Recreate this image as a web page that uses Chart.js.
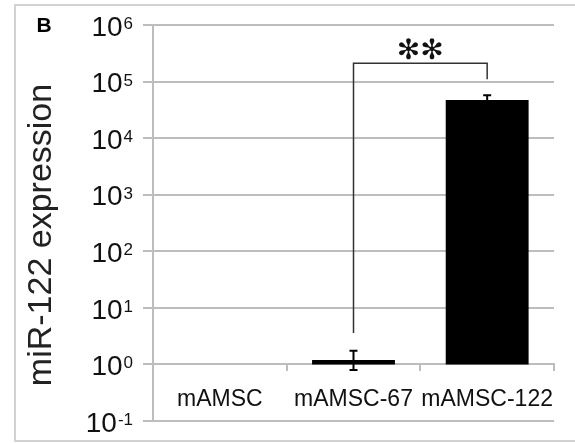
<!DOCTYPE html>
<html>
<head>
<meta charset="utf-8">
<script src="https://cdn.jsdelivr.net/npm/chart.js@4.4.0/dist/chart.umd.min.js"></script>
<style>
  html, body { margin:0; padding:0; background:#fff; }
</style>
</head>
<body>
<canvas id="mirchart" width="575" height="443"></canvas>
<script>
// data
const categories = ['mAMSC', 'mAMSC-67', 'mAMSC-122']
const expression = [null, 1.2, 47000]
const errLow = [null, 0.8, 38000]
const errHigh = [null, 1.75, 57500]
const tickValues = [0.1, 1, 10, 100, 1000, 10000, 100000, 1000000]
const tickExponents = ['-1', '0', '1', '2', '3', '4', '5', '6']
// significance bracket mAMSC-67 vs mAMSC-122
const sigPair = [1, 2]
const sigLegs = [3.6, 110000]
const sigTop = 210000
const sigStarAt = 340000
const sigLabel = '✻✻'

const gridgray = '#bdbdbd'
const fontfam = "'Liberation Sans', Arial, sans-serif"

const extras = {
    id: 'extras',
    beforeDraw(chart) {
        const ctx = chart.ctx
        ctx.save()
        ctx.fillStyle = '#fff'
        ctx.fillRect(0, 0, chart.width, chart.height)
        ctx.strokeStyle = '#d2d2d2'
        ctx.lineWidth = 2
        ctx.strokeRect(15, 5, 600, 436)
        ctx.restore()
    },
    afterDraw(chart) {
        const ctx = chart.ctx
        const xs = chart.scales.x, ys = chart.scales.y
        ctx.save()

        // y tick labels with superscript exponents
        ctx.fillStyle = '#111'
        tickValues.forEach((v, i) => {
            const py = ys.getPixelForValue(v)
            ctx.font = '17px ' + fontfam
            const ew = ctx.measureText(tickExponents[i]).width
            ctx.textAlign = 'right'
            ctx.textBaseline = 'alphabetic'
            ctx.fillText(tickExponents[i], 133, py + 4)
            ctx.font = '28px ' + fontfam
            ctx.textBaseline = 'middle'
            ctx.fillText('10', 133 - ew - 1, py + 3)
        })

        // axis title
        ctx.save()
        ctx.translate(42, 235)
        ctx.rotate(-Math.PI / 2)
        ctx.font = '34px ' + fontfam
        ctx.textAlign = 'center'
        ctx.textBaseline = 'middle'
        ctx.fillStyle = '#222'
        ctx.fillText('miR-122 expression', 0, 0)
        ctx.restore()

        // panel letter
        ctx.font = 'bold 21px ' + fontfam
        ctx.textAlign = 'center'
        ctx.textBaseline = 'middle'
        ctx.fillStyle = '#000'
        ctx.fillText('B', 44, 26)

        // error bars
        ctx.strokeStyle = '#000'
        ctx.lineWidth = 2
        categories.forEach((c, i) => {
            if (errHigh[i] == null) return
            const px = xs.getPixelForValue(i)
            const top = ys.getPixelForValue(errHigh[i])
            const bot = ys.getPixelForValue(errLow[i])
            ctx.beginPath()
            ctx.moveTo(px, top); ctx.lineTo(px, bot)
            ctx.moveTo(px - 4, top); ctx.lineTo(px + 4, top)
            ctx.moveTo(px - 4, bot); ctx.lineTo(px + 4, bot)
            ctx.stroke()
        })

        // significance bracket
        const xa = xs.getPixelForValue(sigPair[0]), xb = xs.getPixelForValue(sigPair[1])
        const yt = ys.getPixelForValue(sigTop)
        ctx.strokeStyle = '#333'
        ctx.lineWidth = 1.5
        ctx.beginPath()
        ctx.moveTo(xa, ys.getPixelForValue(sigLegs[0]))
        ctx.lineTo(xa, yt)
        ctx.lineTo(xb, yt)
        ctx.lineTo(xb, ys.getPixelForValue(sigLegs[1]))
        ctx.stroke()
        ctx.font = '28px DejaVu Sans'
        ctx.fillStyle = '#111'
        ctx.fillText(sigLabel, (xa + xb) / 2, ys.getPixelForValue(sigStarAt))

        ctx.restore()
    }
}

const config = {
    type: 'bar',
    data: {
        labels: categories,
        datasets: [{
            data: expression.map(v => v == null ? null : [1, v]),
            backgroundColor: '#000',
            borderWidth: 0,
            barPercentage: 0.62,
            categoryPercentage: 1
        }]
    },
    options: {
        responsive: false,
        animation: false,
        devicePixelRatio: 1,
        layout: { padding: { left: 0, right: 21, top: 25, bottom: 22 } },
        plugins: { legend: { display: false }, tooltip: { enabled: false } },
        scales: {
            x: {
                position: { y: 1 },
                afterFit: s => { s.height = 0 },
                grid: { drawOnChartArea: false, drawTicks: true, tickLength: 6, color: gridgray, lineWidth: 2 },
                border: { display: true, color: gridgray, width: 2 },
                ticks: { color: '#111', font: { family: fontfam, size: 23 }, padding: 15, maxRotation: 0, autoSkip: false }
            },
            y: {
                type: 'logarithmic',
                min: 0.1,
                max: 1000000,
                afterBuildTicks: s => { s.ticks = tickValues.map(v => ({ value: v })) },
                afterFit: s => { s.width = 153 },
                ticks: { display: false },
                grid: { color: gridgray, lineWidth: 2, tickLength: 10, drawTicks: true },
                border: { display: true, color: gridgray, width: 2 }
            }
        }
    },
    plugins: [extras]
}

new Chart(document.getElementById('mirchart').getContext('2d'), config)
</script>
</body>
</html>
